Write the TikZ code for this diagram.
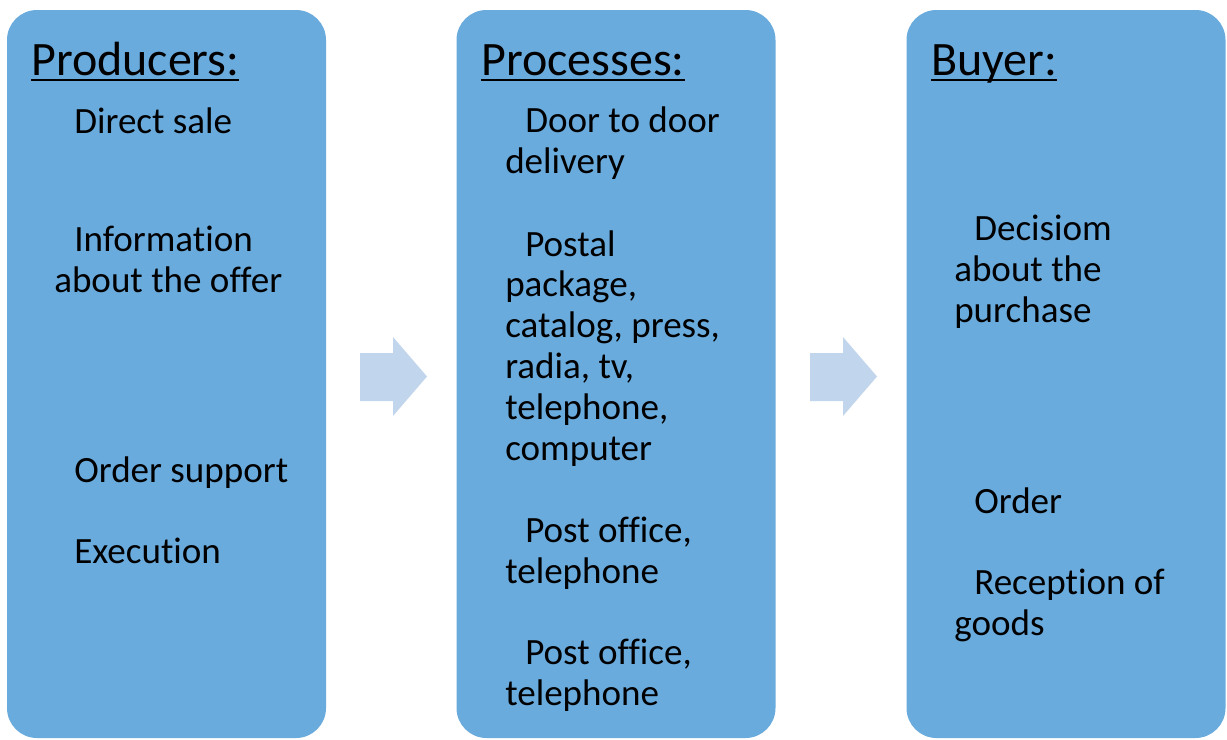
\documentclass[tikz,border=0pt]{standalone}
\usepackage{fontspec}
\setmainfont[Ligatures=NoCommon]{Carlito}
\usetikzlibrary{positioning}
\definecolor{dmpanel}{RGB}{106,171,221}
\definecolor{dmarrow}{RGB}{193,213,236}
\newcommand{\hdline}[1]{\setbox0\hbox{#1}\rlap{\rule[-4.6pt]{\wd0}{1.3pt}}\box0}
\newcommand{\ind}{\hspace*{15pt}}
\tikzset{
  panel/.style={
    fill=dmpanel, rounded corners=22.5pt, inner sep=0pt,
    minimum width=239.25pt, minimum height=546pt
  },
  hd/.style={anchor=base west, inner sep=0pt, font=\fontsize{36}{43}\selectfont},
  % base anchor of a multi-line item sits on its last line
  item/.style={anchor=base west, inner sep=0pt, align=left,
    font=\fontsize{27.8}{30.6}\selectfont},
  blk/.style={fill=dmarrow}
}

\begin{document}
\begin{tikzpicture}[x=0.75pt,y=-0.75pt]
  \useasboundingbox (0,0) rectangle (1227,739);
  % three panels
  \node[panel] (prod) at (166.5,374) {};
  \node[panel] (proc) at (616,374) {};
  \node[panel] (buy) at (1066,374) {};
  % block arrows between panels
  \foreach \dx in {0,450}
    \fill[blk, xshift=\dx*0.75pt] (360,353) -- (393,353) -- (393,337) -- (427,376.5)
      -- (393,416) -- (393,401) -- (360,401) -- cycle;
  % producers
  \node[hd] (prodh) at (31,75) {\hdline{Producers:}};
  \node[item] (p1) at (54,133) {\ind Direct sale};
  \node[item] (p2) at (54,292) {\ind Information\\about the offer};
  \node[item] (p3) at (54,482) {\ind Order support};
  \node[item] (p4) at (54,563) {\ind Execution};
  % processes
  \node[hd] (proch) at (481,75) {\hdline{Processes:}};
  \node[item] (q1) at (505,173) {\ind Door to door\\delivery};
  \node[item] (q2) at (505,460) {\ind Postal\\package,\\catalog, press,\\radia, tv,\\telephone,\\computer};
  \node[item] (q3) at (505,583) {\ind Post office,\\telephone};
  \node[item] (q4) at (505,705) {\ind Post office,\\telephone};
  % buyer
  \node[hd] (buyh) at (931,75) {\hdline{Buyer:}};
  \node[item] (b1) at (954,322) {\ind Decisiom\\about the\\purchase};
  \node[item] (b2) at (954,513) {\ind Order};
  \node[item] (b3) at (954,635) {\ind Reception of\\goods};
\end{tikzpicture}
\end{document}
